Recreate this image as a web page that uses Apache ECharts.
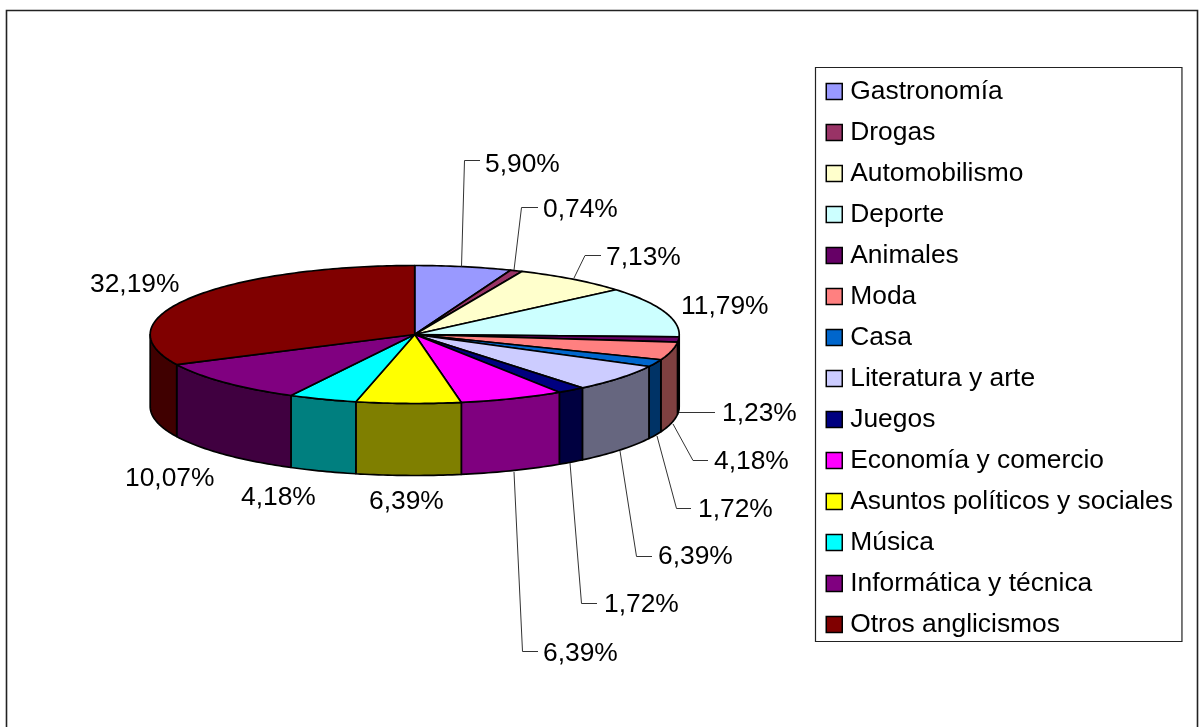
<!DOCTYPE html>
<html><head><meta charset="utf-8">
<style>html,body{margin:0;padding:0;background:#fff}#c{width:1200px;height:727px}</style>
<script src="https://cdn.jsdelivr.net/npm/echarts@6/dist/echarts.min.js"></script>
</head><body><div id="c"></div>
<script>
const categories = ['Gastronomía','Drogas','Automobilismo','Deporte','Animales','Moda','Casa','Literatura y arte','Juegos','Economía y comercio','Asuntos políticos y sociales','Música','Informática y técnica','Otros anglicismos'];
const shares = [5.90,0.74,7.13,11.79,1.23,4.18,1.72,6.39,1.72,6.39,6.39,4.18,10.07,32.19];
const colors = ['#9999FF','#993366','#FFFFCC','#CCFFFF','#660066','#FF8080','#0066CC','#CCCCFF','#000080','#FF00FF','#FFFF00','#00FFFF','#800080','#800000'];

// label placement: text left / middle, then optional leader line
const labelX = [485,543,606,681,722,714,698,658,604,543,369,241,125,90];
const labelY = [163,208,256,305,412,460,508,555,603,652,500,496,477,283];
const leaders = [
  [[461.5,266.5],[464.5,160.5],[480,160.5]],
  [[514,270],[521.5,207.5],[538,207.5]],
  [[574,278],[585,255.5],[601,255.5]],
  null,
  [[679,412.5],[715,412.5]],
  [[673,424],[693,460.5],[708,460.5]],
  [[657,436],[676.5,508.5],[691,508.5]],
  [[620,451],[636.5,556.5],[652,556.5]],
  [[570,463],[581.5,603.5],[597,603.5]],
  [[514,472],[522.5,651.5],[538,651.5]],
  null,null,null,null
];

const FONT = '"Liberation Sans", Arial, sans-serif';
const FS = 26.4;
const CX = 414.7, CY = 334.5, RX = 264.5, RY = 69, DEPTH = 72;
const total = shares.reduce((a,b)=>a+b,0);
const cumulative = shares.reduce((acc,v)=>{acc.push(acc[acc.length-1]+v);return acc;},[0]);
const toAngle = v => echarts.number.linearMap(v,[0,total],[0,2*Math.PI],true);
const rim = (t,dy) => [CX+RX*Math.sin(t), CY-RY*Math.cos(t)+(dy||0)];
function arc(a,b,dy){
  const n = Math.max(2,Math.ceil((b-a)/(Math.PI/180)));
  const out=[];
  for(let i=0;i<=n;i++) out.push(rim(a+(b-a)*i/n,dy));
  return out;
}
function darken(hex){
  const c=echarts.color.parse(hex);
  return `rgb(${c[0]>>1},${c[1]>>1},${c[2]>>1})`;
}
const edge = {stroke:'#000',lineWidth:1.7,lineJoin:'round'};

function renderer(idx){
  return function(params,api){
    const a=toAngle(cumulative[idx]), b=toAngle(cumulative[idx]+api.value(0));
    const kids=[];
    const fa=Math.max(a,Math.PI/2), fb=Math.min(b,Math.PI*1.5);
    if(fb>fa){
      const pts=arc(fa,fb,0).concat(arc(fa,fb,DEPTH).reverse());
      kids.push({type:'polygon',shape:{points:pts},style:Object.assign({fill:darken(colors[idx])},edge),z2:1});
    }
    kids.push({type:'polygon',shape:{points:[[CX,CY]].concat(arc(a,b,0))},style:Object.assign({fill:colors[idx]},edge),z2:2});
    if(leaders[idx]) kids.push({type:'polyline',shape:{points:leaders[idx]},style:{stroke:'#333',lineWidth:1,fill:null},z2:3});
    kids.push({type:'text',style:{text:api.value(0).toFixed(2).replace('.',',')+'%',x:labelX[idx],y:labelY[idx]+1.5,fill:'#000',font:FS+'px '+FONT,textAlign:'left',textVerticalAlign:'middle'},z2:4});
    return {type:'group',children:kids};
  };
}

const chart=echarts.init(document.getElementById('c'),null,{renderer:'canvas'});
chart.setOption({
  animation:false,
  backgroundColor:'#fff',
  graphic:[{type:'rect',silent:true,z:-1,shape:{x:6.5,y:10.5,width:1191,height:740},style:{fill:'#fff',stroke:'#222',lineWidth:1.6}}],
  legend:{
    orient:'vertical',left:815.5,top:67.5,
    padding:[11,9,4,10],
    itemWidth:16,itemHeight:16,itemGap:15,
    icon:'rect',selectedMode:false,
    backgroundColor:'#fff',borderColor:'#222',borderWidth:1.2,
    itemStyle:{borderColor:'#000',borderWidth:1.5},
    textStyle:{fontFamily:'Liberation Sans',fontSize:FS,color:'#000',lineHeight:30,padding:[-5,0,0,3]},
    data:categories
  },
  series:categories.map((name,i)=>({
    type:'custom',name,coordinateSystem:'none',
    itemStyle:{color:colors[i]},
    renderItem:renderer(i),
    data:[[shares[i]]],
    encode:{value:0},
    silent:true
  }))
});
</script></body></html>
